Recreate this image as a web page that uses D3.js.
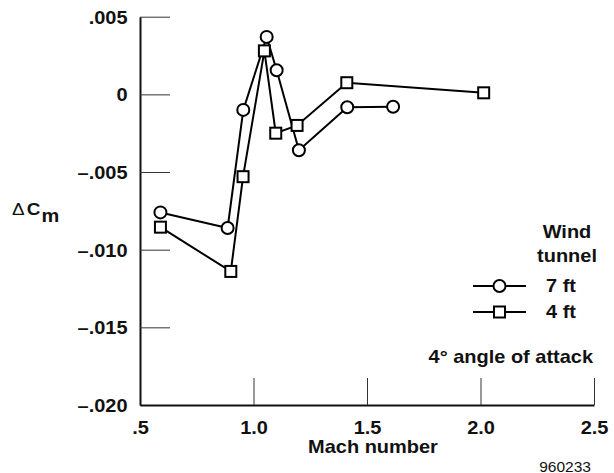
<!DOCTYPE html>
<html>
<head>
<meta charset="utf-8">
<script src="https://cdn.jsdelivr.net/npm/d3@7"></script>
<style>
  body { margin: 0; background: #fff; }
  text { font-family: "Liberation Sans", Arial, Helvetica, sans-serif; font-weight: bold; fill: #111; }
</style>
</head>
<body>
<div id="chart"></div>
<script>
// Mach number / delta Cm readings, 7 ft tunnel (circles)
const mach7 = [0.59, 0.886, 0.955, 1.058, 1.102, 1.200, 1.413, 1.615];
const cm7   = [-0.0076, -0.0086, -0.0010, 0.0037, 0.00155, -0.0036, -0.00083, -0.0008];
// 4 ft tunnel (squares)
const mach4 = [0.59, 0.90, 0.954, 1.048, 1.098, 1.192, 1.411, 2.014];
const cm4   = [-0.00855, -0.0114, -0.0053, 0.0028, -0.0025, -0.0020, 0.00075, 0.0001];

const xTicks = [0.5, 1.0, 1.5, 2.0, 2.5];
const xTickLabels = [".5", "1.0", "1.5", "2.0", "2.5"];
const yTicks = [0.005, 0, -0.005, -0.010, -0.015, -0.020];
const yTickLabels = [".005", "0", "\u2013.005", "\u2013.010", "\u2013.015", "\u2013.020"];

const width = 614, height = 473;
const stretch = 1.11;   // the lettering in the original is a bit wide
const svg = d3.select("#chart").append("svg")
  .attr("width", width)
  .attr("height", height);

// text placed at x,y then widened
function label(x, y, txt, anchor, size, weight) {
  return svg.append("text")
    .attr("transform", `translate(${x},${y}) scale(${stretch},1)`)
    .attr("text-anchor", anchor || "start")
    .style("font-size", (size || 18) + "px")
    .style("font-weight", weight || "bold")
    .text(txt);
}

// scales
const x = d3.scaleLinear().domain([0.5, 2.5]).range([140, 594]);
const y = d3.scaleLinear().domain([-0.020, 0.005]).range([405, 16.7]);

// y axis, ticks pointing inward
const yAxis = svg.append("g")
  .attr("transform", "translate(140,0)")
  .call(d3.axisLeft(y).tickValues(yTicks).tickSize(-30).tickSizeOuter(0)
    .tickFormat((d, i) => yTickLabels[i]));
yAxis.select(".domain").attr("stroke", "#111").attr("stroke-width", 2);
yAxis.selectAll(".tick line").attr("stroke", "#333").attr("stroke-width", 1);
yAxis.selectAll(".tick text")
  .attr("x", 0).attr("dy", null).attr("y", null)
  .attr("transform", `translate(-12.5,6.5) scale(${stretch},1)`)
  .style("font-size", "18px").attr("fill", "#111");

// x axis, ticks pointing up
const xAxis = svg.append("g")
  .attr("transform", "translate(0,405)")
  .call(d3.axisBottom(x).tickValues(xTicks).tickSize(-27).tickSizeOuter(0)
    .tickFormat((d, i) => xTickLabels[i]));
xAxis.select(".domain").attr("stroke", "#111").attr("stroke-width", 2);
xAxis.selectAll(".tick line").attr("stroke", "#333").attr("stroke-width", 1)
  .attr("display", d => d === 0.5 ? "none" : null);
xAxis.selectAll(".tick text")
  .attr("y", null).attr("dy", null)
  .attr("transform", `translate(0,29) scale(${stretch},1)`)
  .style("font-size", "18px").attr("fill", "#111");

// axis titles
label(373, 453, "Mach number", "middle");

const yTitle = svg.append("text")
  .attr("transform", `translate(12,215) scale(${stretch},1)`)
  .style("font-size", "17px");
yTitle.append("tspan").style("font-weight", "normal").text("\u0394");
yTitle.append("tspan").attr("dx", 2).text("C");
yTitle.append("tspan").attr("dy", 6.5).attr("dx", 1).style("font-size", "18px").text("m");

label(591, 471.5, "960233", "end", 14, "normal");

// series
const line = d3.line().x(d => x(d[0])).y(d => y(d[1]));
const pts7 = mach7.map((m, i) => [m, cm7[i]]);
const pts4 = mach4.map((m, i) => [m, cm4[i]]);

svg.append("path").datum(pts7).attr("d", line)
  .attr("fill", "none").attr("stroke", "#000").attr("stroke-width", 2);
svg.append("path").datum(pts4).attr("d", line)
  .attr("fill", "none").attr("stroke", "#000").attr("stroke-width", 2);

svg.selectAll("circle.p7").data(pts7).enter().append("circle")
  .attr("class", "p7")
  .attr("cx", d => x(d[0])).attr("cy", d => y(d[1])).attr("r", 6)
  .attr("fill", "#fff").attr("stroke", "#000").attr("stroke-width", 2);

svg.selectAll("rect.p4").data(pts4).enter().append("rect")
  .attr("class", "p4")
  .attr("x", d => x(d[0]) - 5.5).attr("y", d => y(d[1]) - 5.5)
  .attr("width", 11).attr("height", 11)
  .attr("fill", "#fff").attr("stroke", "#000").attr("stroke-width", 2);

// legend
label(567, 237.5, "Wind", "middle");
label(567, 262, "tunnel", "middle");

const legendRows = [
  { label: "7 ft", shape: "circle", y: 286 },
  { label: "4 ft", shape: "square", y: 312 }
];
legendRows.forEach(r => {
  svg.append("line").attr("x1", 473).attr("x2", 526).attr("y1", r.y).attr("y2", r.y)
    .attr("stroke", "#000").attr("stroke-width", 2);
  if (r.shape === "circle") {
    svg.append("circle").attr("cx", 499.5).attr("cy", r.y).attr("r", 6)
      .attr("fill", "#fff").attr("stroke", "#000").attr("stroke-width", 2);
  } else {
    svg.append("rect").attr("x", 494).attr("y", r.y - 5.5).attr("width", 11).attr("height", 11)
      .attr("fill", "#fff").attr("stroke", "#000").attr("stroke-width", 2);
  }
  label(546, r.y + 6, r.label);
});

label(593, 363, "4\u00b0 angle of attack", "end");
</script>
</body>
</html>
